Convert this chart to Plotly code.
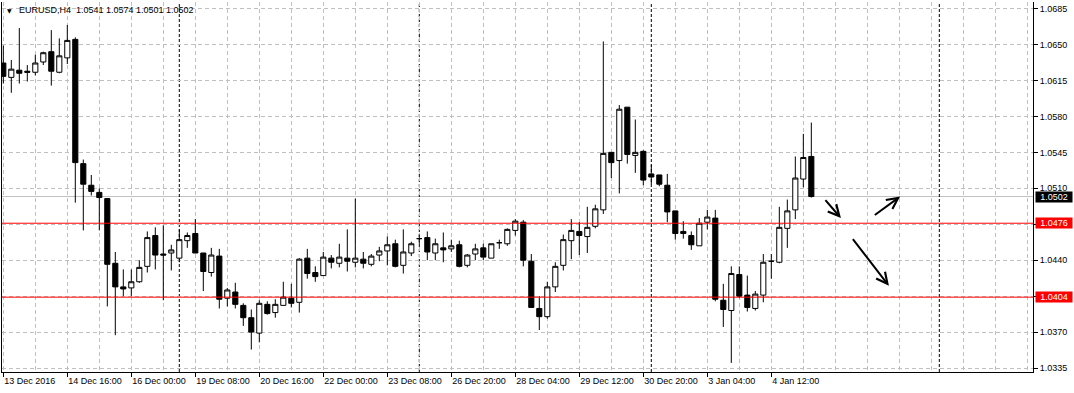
import plotly.graph_objects as go

# ---- data (EURUSD H4), candle index 0..101 ----
bar_index = list(range(102))
opens = [1.0632, 1.0618, 1.0625, 1.0624, 1.0623, 1.0633, 1.0643, 1.0623, 1.0637, 1.0655,
         1.0534, 1.0513, 1.0506, 1.0500, 1.0437, 1.0414, 1.0413, 1.0419, 1.0434, 1.0464,
         1.0446, 1.0447, 1.0442, 1.0459, 1.0466, 1.0447, 1.0428, 1.0444, 1.0403, 1.0409,
         1.0396, 1.0384, 1.0369, 1.0397, 1.0389, 1.0396, 1.0403, 1.0399, 1.0442, 1.0428,
         1.0425, 1.0442, 1.0437, 1.0442, 1.0438, 1.0441, 1.0436, 1.0445, 1.0449, 1.0456,
         1.0435, 1.0447, 1.0461, 1.0462, 1.0447, 1.0452, 1.0451, 1.0455, 1.0435, 1.0446,
         1.0452, 1.0442, 1.0457, 1.0456, 1.0469, 1.0477, 1.0439, 1.0393, 1.0385, 1.0414,
         1.0435, 1.0459, 1.0468, 1.0463, 1.0473, 1.0489, 1.0545, 1.0537, 1.0589, 1.0542,
         1.0546, 1.0524, 1.0523, 1.0513, 1.0488, 1.0468, 1.0464, 1.0454, 1.0477, 1.0481,
         1.0401, 1.0391, 1.0426, 1.0406, 1.0393, 1.0406, 1.0439, 1.0438, 1.0471, 1.0489,
         1.0519, 1.0541]
highs = [1.0649, 1.0635, 1.0666, 1.0630, 1.0640, 1.0643, 1.0664, 1.0656, 1.0669, 1.0657,
         1.0538, 1.0523, 1.0510, 1.0500, 1.0448, 1.0431, 1.0431, 1.0440, 1.0468, 1.0472,
         1.0474, 1.0455, 1.0470, 1.0467, 1.0480, 1.0447, 1.0452, 1.0451, 1.0413, 1.0418,
         1.0398, 1.0392, 1.0401, 1.0400, 1.0402, 1.0419, 1.0417, 1.0442, 1.0451, 1.0434,
         1.0448, 1.0445, 1.0456, 1.0470, 1.0500, 1.0448, 1.0446, 1.0453, 1.0463, 1.0460,
         1.0470, 1.0458, 1.0465, 1.0468, 1.0461, 1.0467, 1.0460, 1.0459, 1.0446, 1.0456,
         1.0456, 1.0456, 1.0460, 1.0471, 1.0480, 1.0479, 1.0446, 1.0405, 1.0419, 1.0438,
         1.0465, 1.0480, 1.0477, 1.0492, 1.0494, 1.0653, 1.0545, 1.0591, 1.0589, 1.0577,
         1.0547, 1.0533, 1.0523, 1.0524, 1.0488, 1.0478, 1.0468, 1.0481, 1.0489, 1.0489,
         1.0417, 1.0434, 1.0434, 1.0425, 1.0410, 1.0446, 1.0446, 1.0492, 1.0499, 1.0541,
         1.0563, 1.0574]
lows = [1.0612, 1.0603, 1.0612, 1.0614, 1.0620, 1.0630, 1.0610, 1.0622, 1.0631, 1.0496,
        1.0469, 1.0503, 1.0469, 1.0395, 1.0367, 1.0405, 1.0405, 1.0418, 1.0428, 1.0431,
        1.0401, 1.0430, 1.0438, 1.0452, 1.0447, 1.0410, 1.0424, 1.0393, 1.0395, 1.0393,
        1.0376, 1.0353, 1.0360, 1.0387, 1.0384, 1.0396, 1.0394, 1.0389, 1.0422, 1.0419,
        1.0425, 1.0432, 1.0433, 1.0429, 1.0433, 1.0432, 1.0434, 1.0439, 1.0435, 1.0433,
        1.0427, 1.0444, 1.0456, 1.0440, 1.0440, 1.0438, 1.0448, 1.0433, 1.0433, 1.0440,
        1.0440, 1.0442, 1.0451, 1.0454, 1.0464, 1.0434, 1.0394, 1.0372, 1.0383, 1.0409,
        1.0430, 1.0441, 1.0445, 1.0447, 1.0471, 1.0485, 1.0520, 1.0505, 1.0534, 1.0525,
        1.0513, 1.0514, 1.0512, 1.0477, 1.0460, 1.0461, 1.0450, 1.0454, 1.0470, 1.0400,
        1.0375, 1.0340, 1.0403, 1.0390, 1.0391, 1.0399, 1.0422, 1.0437, 1.0452, 1.0480,
        1.0511, 1.0501]
closes = [1.0619, 1.0626, 1.0622, 1.0623, 1.0632, 1.0642, 1.0624, 1.0639, 1.0654, 1.0535,
          1.0514, 1.0507, 1.0501, 1.0436, 1.0414, 1.0412, 1.0419, 1.0433, 1.0462, 1.0445,
          1.0445, 1.0450, 1.0460, 1.0464, 1.0447, 1.0429, 1.0445, 1.0402, 1.0411, 1.0397,
          1.0384, 1.0370, 1.0398, 1.0388, 1.0397, 1.0404, 1.0398, 1.0441, 1.0427, 1.0424,
          1.0443, 1.0438, 1.0443, 1.0439, 1.0442, 1.0437, 1.0444, 1.0449, 1.0455, 1.0434,
          1.0448, 1.0456, 1.0461, 1.0448, 1.0456, 1.0450, 1.0454, 1.0434, 1.0445, 1.0451,
          1.0443, 1.0456, 1.0457, 1.0470, 1.0478, 1.0440, 1.0394, 1.0385, 1.0414, 1.0434,
          1.0460, 1.0469, 1.0464, 1.0472, 1.0490, 1.0544, 1.0535, 1.0587, 1.0543, 1.0545,
          1.0518, 1.0521, 1.0514, 1.0487, 1.0466, 1.0466, 1.0455, 1.0476, 1.0482, 1.0402,
          1.0392, 1.0427, 1.0405, 1.0394, 1.0407, 1.0438, 1.0439, 1.0472, 1.0488, 1.0520,
          1.0540, 1.0502]

tick_positions = [0, 8, 16, 24, 32, 40, 48, 56, 64, 72, 80, 88, 96]
tick_labels = ["13 Dec 2016", "14 Dec 16:00", "16 Dec 00:00", "19 Dec 08:00",
               "20 Dec 16:00", "22 Dec 00:00", "23 Dec 08:00", "26 Dec 20:00",
               "28 Dec 04:00", "29 Dec 12:00", "30 Dec 20:00", "3 Jan 04:00",
               "4 Jan 12:00"]
price_ticks = [1.0335, 1.0370, 1.0405, 1.0440, 1.0475, 1.0510, 1.0545,
               1.0580, 1.0615, 1.0650, 1.0685]
week_separators = [22, 52, 81, 117]
red_levels = [1.0476, 1.0404]
bid_level = 1.0502
title_text = "EURUSD,H4\u00a0\u00a01.0541 1.0574 1.0501 1.0502"
# arrows: (tail index, tail price, head index, head price)
arrow_tails_x = [102.6, 108.75, 106.05]
arrow_tails_y = [1.0500, 1.0483, 1.0462]
arrow_heads_x = [104.7, 112.1, 110.7]
arrow_heads_y = [1.0481, 1.0502, 1.0415]

FONT = "Tahoma, 'Liberation Sans', Arial, sans-serif"
GRID = "#c0c0c0"

fig = go.Figure()
fig.add_trace(go.Candlestick(
    x=bar_index, open=opens, high=highs, low=lows, close=closes,
    increasing=dict(line=dict(color="black", width=1), fillcolor="white"),
    decreasing=dict(line=dict(color="black", width=1), fillcolor="black"),
    whiskerwidth=0, hoverinfo="skip", showlegend=False,
))

for lv in red_levels:
    fig.add_hline(y=lv, line=dict(color="#ff0000", width=1), layer="above")
fig.add_hline(y=bid_level, line=dict(color="#c0c0c0", width=1), layer="below")
for s in week_separators:
    fig.add_vline(x=s, line=dict(color="black", width=1, dash="3px,2px"), layer="below")

annotations = []
for tx, ty, hx, hy in zip(arrow_tails_x, arrow_tails_y, arrow_heads_x, arrow_heads_y):
    annotations.append(dict(
        x=hx, y=hy, ax=tx, ay=ty, xref="x", yref="y", axref="x", ayref="y",
        text="", showarrow=True, arrowhead=5, arrowsize=1.1, arrowwidth=2,
        arrowcolor="black", standoff=0, startstandoff=0))

for lv, bg in [(bid_level, "black")] + [(lv, "#ff0000") for lv in red_levels]:
    annotations.append(dict(
        x=1, xref="paper", y=lv, yref="y", xanchor="left", yanchor="middle",
        xshift=2, text=f"{lv:.4f}", showarrow=False, bgcolor=bg,
        font=dict(family=FONT, size=9, color="white"),
        width=36, height=10, borderpad=0, align="center"))

annotations.append(dict(
    x=0, xref="paper", y=1, yref="paper", xanchor="left", yanchor="middle",
    xshift=3, yshift=-8, text="\u25bc", showarrow=False,
    font=dict(family="DejaVu Sans", size=6, color="black")))
annotations.append(dict(
    x=0, xref="paper", y=1, yref="paper", xanchor="left", yanchor="middle",
    xshift=15, yshift=-8, text=title_text, showarrow=False,
    font=dict(family=FONT, size=9, color="black")))

fig.update_layout(
    width=1074, height=393, autosize=False,
    margin=dict(l=2, r=41, t=2, b=21, pad=0),
    paper_bgcolor="white", plot_bgcolor="white",
    font=dict(family=FONT, size=9, color="black"),
    boxgap=0.2, boxgroupgap=0.2,
    showlegend=False,
    annotations=annotations,
    xaxis=dict(
        range=[-0.1625, 128.71], rangeslider=dict(visible=False),
        tickmode="array", tickvals=tick_positions, ticktext=tick_labels,
        ticks="outside", ticklen=4, tickcolor="black", tickwidth=1,
        ticklabelposition="outside right",
        showgrid=True, gridcolor=GRID, griddash="4px,3px", gridwidth=1,
        minor=dict(tickmode="linear", tick0=0, dtick=4, showgrid=True,
                   gridcolor=GRID, griddash="4px,3px", gridwidth=1, ticks=""),
        showline=True, linecolor="black", linewidth=1, mirror=False,
        zeroline=False, fixedrange=True,
    ),
    yaxis=dict(
        side="right", range=[1.033113, 1.06914],
        tickmode="array", tickvals=price_ticks,
        ticktext=[f"{p:.4f}" for p in price_ticks],
        ticks="outside", ticklen=4, tickcolor="black", tickwidth=1,
        showgrid=True, gridcolor=GRID, griddash="4px,3px", gridwidth=1,
        showline=True, linecolor="black", linewidth=1, mirror=True,
        zeroline=False, fixedrange=True,
    ),
)

fig.write_html("out.html", config={"displayModeBar": False, "staticPlot": True})
